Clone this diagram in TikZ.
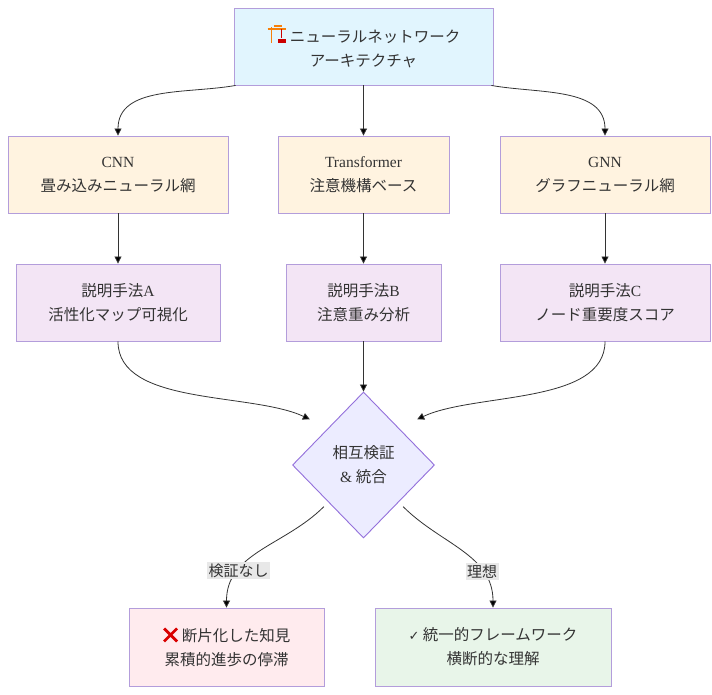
\documentclass[tikz,border=0pt]{standalone}
\usepackage{fontspec}
\setmainfont{Liberation Serif}
\newfontfamily\jp{Noto Sans CJK JP}
\newfontfamily\dv{DejaVu Sans}
\usetikzlibrary{shapes.geometric,arrows.meta}
\definecolor{edge}{HTML}{333333}
\definecolor{bord}{HTML}{B39DDB}
\definecolor{ctop}{HTML}{E1F5FE}
\definecolor{corg}{HTML}{FFF3E0}
\definecolor{cpur}{HTML}{F3E5F5}
\definecolor{cpink}{HTML}{FFEBEE}
\definecolor{cgrn}{HTML}{E8F5E9}
\definecolor{cdia}{HTML}{ECECFF}
\definecolor{ddia}{HTML}{9370DB}
\newcommand{\lat}[1]{{\rmfamily #1}}
\newcommand{\craneicon}{\tikz[baseline=0pt,x=1pt,y=1pt,line width=1.8pt]{\draw[orange!85!brown] (2,0)--(2,16) (-2,14)--(16,14) (4,17)--(12,17); \draw[red!80!black,line width=1.2pt] (12,14)--(12,5); \fill[red!80!black] (8,0) rectangle (16,4);}}
\newcommand{\redx}{\tikz[baseline=0pt,x=1pt,y=1pt]{\draw[red!85!black,line width=2.8pt] (0,0)--(13,13) (0,13)--(13,0);}}
\begin{document}
\begin{tikzpicture}[x=1pt,y=-1pt,
  box/.style={draw=bord,line width=0.9pt,align=center,text=edge,font=\jp\fontsize{15.5}{24}\selectfont,inner sep=0pt},
  arr/.style={draw=edge,line width=0.8pt,-{Triangle[length=7pt,width=7pt]}},
  lbl/.style={fill=black!9,text=edge,font=\jp\fontsize{15}{18}\selectfont,inner sep=1.5pt}]
\useasboundingbox[fill=white] (0,0) rectangle (712,694);
\node[box,fill=ctop,minimum width=259pt,minimum height=77pt] (top) at (363.5,46.5) {\craneicon\ ニューラルネットワーク\\アーキテクチャ};
\node[box,fill=corg,minimum width=220pt,minimum height=77pt] (cnn) at (118,174.5) {\lat{CNN}\\畳み込みニューラル網};
\node[box,fill=corg,minimum width=171pt,minimum height=77pt] (tr) at (363.5,174.5) {\lat{Transformer}\\注意機構ベース};
\node[box,fill=corg,minimum width=210pt,minimum height=77pt] (gnn) at (605,174.5) {\lat{GNN}\\グラフニューラル網};
\node[box,fill=cpur,minimum width=204pt,minimum height=77pt] (ma) at (118,302.5) {説明手法\lat{A}\\活性化マップ可視化};
\node[box,fill=cpur,minimum width=155pt,minimum height=77pt] (mb) at (363.5,302.5) {説明手法\lat{B}\\注意重み分析};
\node[box,fill=cpur,minimum width=210pt,minimum height=77pt] (mc) at (605,302.5) {説明手法\lat{C}\\ノード重要度スコア};
\node[box,diamond,fill=cdia,draw=ddia,minimum width=142pt,minimum height=146pt] (dia) at (363.5,465) {相互検証\\\lat{\&} 統合};
\node[box,fill=cpink,minimum width=195pt,minimum height=78pt] (bl) at (226.5,647) {\redx\ 断片化した知見\\累積的進歩の停滞};
\node[box,fill=cgrn,minimum width=236pt,minimum height=78pt] (br) at (493,647) {{\dv\fontsize{13}{13}\selectfont ✓} 統一的フレームワーク\\横断的な理解};
\draw[arr] ([xshift=2pt]top.south west) to[out=190,in=90] (cnn.north);
\draw[arr] (top.south) -- (tr.north);
\draw[arr] ([xshift=-2pt]top.south east) to[out=-10,in=90] (gnn.north);
\draw[arr] (cnn) -- (ma);
\draw[arr] (tr) -- (mb);
\draw[arr] (gnn) -- (mc);
\draw[arr] (ma.south) to[out=-90,in=155,looseness=0.8] ([shift={(-18pt,9pt)}]dia.north west);
\draw[arr] (mb) -- (dia);
\draw[arr] (mc.south) to[out=-90,in=25,looseness=0.8] ([shift={(18pt,9pt)}]dia.north east);
\draw[arr] ([shift={(-4pt,-5pt)}]dia.south west) to[out=-135,in=90] node[lbl,pos=0.72] {検証なし} (bl.north);
\draw[arr] ([shift={(4pt,-5pt)}]dia.south east) to[out=-45,in=90] node[lbl,pos=0.72] {理想} (br.north);
\end{tikzpicture}
\end{document}
